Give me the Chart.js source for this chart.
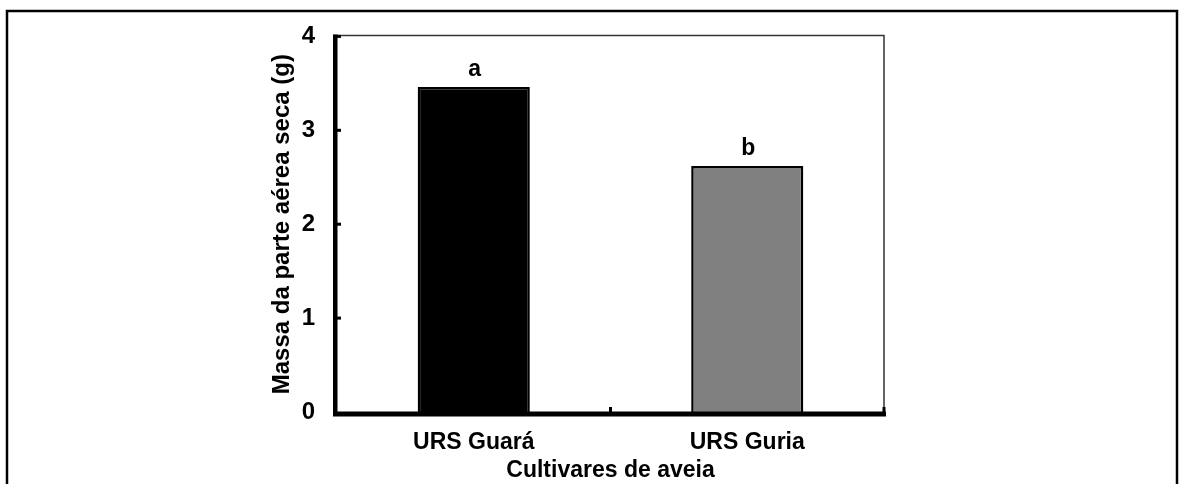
<!DOCTYPE html>
<html lang="pt">
<head>
<meta charset="UTF-8">
<title>Massa da parte aérea seca</title>
<script src="https://cdn.jsdelivr.net/npm/chart.js@4.4.0/dist/chart.umd.min.js"></script>
<style>
    body { margin: 0; background: #fff; }
</style>
</head>
<body>

<canvas id="chart" width="1179" height="484"></canvas>

<script>
    // dados
    const cultivares = ['URS Guará', 'URS Guria'];
    const massaSeca = [3.46, 2.62];
    const letras = ['a', 'b'];
    const coresBarras = ['#000000', '#808080'];
    const yMin = 0, yMax = 4, yPasso = 1;

    const familia = "'Liberation Sans', Arial, sans-serif";
    const fonte = { family: familia, size: 24, weight: 'bold' };
    const fonteX = { family: familia, size: 23, weight: 'bold' };

    // moldura, eixos grossos, marcas internas e letras sobre as barras
    const moldura = {
        id: 'moldura',
        afterDraw(chart) {
            const ctx = chart.ctx;
            const a = chart.chartArea;
            const x = chart.scales.x, y = chart.scales.y;
            ctx.save();
            // caixa externa
            ctx.strokeStyle = '#000';
            ctx.lineWidth = 2.5;
            ctx.strokeRect(7, 11, 1170, 520);
            // borda fina superior e direita
            ctx.strokeStyle = '#333';
            ctx.lineWidth = 1.5;
            ctx.beginPath();
            ctx.moveTo(a.left, a.top - 1);
            ctx.lineTo(a.right, a.top - 1);
            ctx.lineTo(a.right, a.bottom);
            ctx.stroke();
            // eixos grossos
            ctx.fillStyle = '#000';
            ctx.fillRect(a.left - 4, a.top - 2, 4.5, a.bottom - a.top + 5);
            ctx.fillRect(a.left - 4, a.bottom - 0.5, a.right - a.left + 6, 5);
            // marcas do eixo y
            for (let v = yMin + yPasso; v <= yMax; v += yPasso) {
                const py = y.getPixelForValue(v);
                ctx.fillRect(a.left, py - 1.5, 4, 3);
            }
            // marcas do eixo x (entre categorias e no fim)
            for (let i = 1; i <= cultivares.length; i++) {
                const px = (x.getPixelForValue(i - 1) + x.getPixelForValue(i)) / 2;
                ctx.fillRect(px - 1.5, a.bottom - 5, 3, 5);
            }
            // letras
            const meta = chart.getDatasetMeta(0);
            ctx.font = `${fonteX.weight} ${fonteX.size}px ${fonteX.family}`;
            ctx.textAlign = 'center';
            ctx.textBaseline = 'alphabetic';
            meta.data.forEach((bar, i) => {
                ctx.fillText(letras[i], bar.x + 1, bar.y - 11);
            });
            ctx.restore();
        }
    };

    const ctx = document.getElementById('chart').getContext('2d');
    const grafico = new Chart(ctx, {
        type: 'bar',
        data: {
            labels: cultivares,
            datasets: [{
                data: massaSeca,
                backgroundColor: coresBarras,
                borderColor: '#000',
                borderWidth: 2.5,
                borderSkipped: 'bottom',
                barPercentage: 0.41,
                categoryPercentage: 1
            }]
        },
        options: {
            responsive: false,
            animation: false,
            layout: { padding: { left: 262, right: 295, top: 36, bottom: 0 } },
            plugins: { legend: { display: false }, tooltip: { enabled: false } },
            scales: {
                x: {
                    grid: { display: false, drawTicks: false },
                    border: { display: false },
                    ticks: { color: '#000', font: fonteX, padding: 17 },
                    title: { display: true, text: 'Cultivares de aveia', color: '#000', font: fonteX, padding: { top: 0, bottom: 0 } },
                    afterFit(s) { s.height = 72; }
                },
                y: {
                    min: yMin,
                    max: yMax,
                    grid: { display: false, drawTicks: false },
                    border: { display: false },
                    ticks: { stepSize: yPasso, color: '#000', font: fonte, padding: 22 },
                    title: { display: true, text: 'Massa da parte aérea seca (g)', color: '#000', font: fonte, padding: { top: 6, bottom: 0 } },
                    afterFit(s) { s.width = 75; }
                }
            }
        },
        plugins: [moldura]
    });
</script>

</body>
</html>
